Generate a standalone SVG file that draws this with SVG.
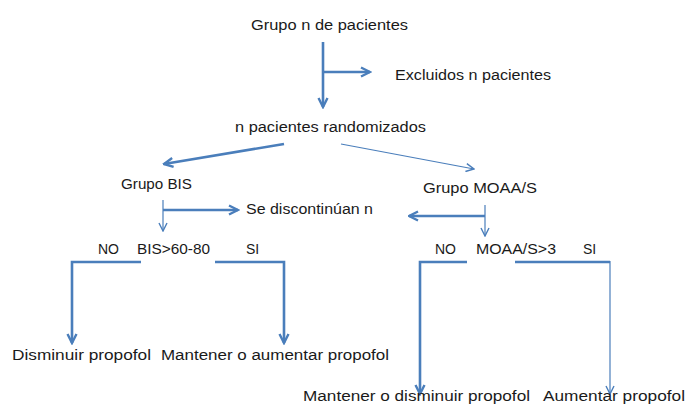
<svg xmlns="http://www.w3.org/2000/svg" width="687" height="405" viewBox="0 0 687 405">
<style>
text{font-family:"Liberation Sans",Arial,sans-serif;font-size:14px;fill:#1a1a1a}
.thick{stroke:#4A7EBB;stroke-width:2.6;fill:none}
.thin{stroke:#4A7EBB;stroke-width:1.2;fill:none}
</style>
<defs>
<marker id="ah" viewBox="0 0 12 12" refX="10.5" refY="6" markerWidth="12" markerHeight="12" markerUnits="userSpaceOnUse" orient="auto">
<path d="M1.5,1.5 L10.5,6 L1.5,10.5" fill="none" stroke="#4A7EBB" stroke-width="2.4"/>
</marker>
<marker id="at" viewBox="0 0 10 10" refX="9" refY="5" markerWidth="10" markerHeight="10" markerUnits="userSpaceOnUse" orient="auto">
<path d="M1,1 L9,5 L1,9" fill="none" stroke="#4A7EBB" stroke-width="1.4"/>
</marker>
</defs>
<g id="connectors">
<path class="thick" d="M323,42 V107" marker-end="url(#ah)"/>
<path class="thick" d="M323,72 H370" marker-end="url(#ah)"/>
<path class="thick" d="M284,144 L164,164" marker-end="url(#ah)"/>
<path class="thin" d="M341,144 L474,169" marker-end="url(#at)"/>
<path class="thin" d="M163,200 V231" marker-end="url(#at)"/>
<path class="thick" d="M163,210 H238" marker-end="url(#ah)"/>
<path class="thin" d="M485,205 V236" marker-end="url(#at)"/>
<path class="thick" d="M485,216 H409" marker-end="url(#ah)"/>
<path class="thick" d="M141,262 H72 V343" marker-end="url(#ah)"/>
<path class="thick" d="M215,262 H284 V343" marker-end="url(#ah)"/>
<path class="thick" d="M467,262 H420 V394" marker-end="url(#ah)"/>
<path class="thick" d="M515,262 H610"/>
<path class="thin" d="M610,261 V394" marker-end="url(#at)"/>
</g>
<g id="n-grupo"><text x="251" y="30" textLength="157" lengthAdjust="spacingAndGlyphs">Grupo n de pacientes</text></g>
<g id="n-excluidos"><text x="395" y="80" textLength="156" lengthAdjust="spacingAndGlyphs">Excluidos n pacientes</text></g>
<g id="n-random"><text x="235" y="132" textLength="191" lengthAdjust="spacingAndGlyphs">n pacientes randomizados</text></g>
<g id="n-bis"><text x="121" y="189" textLength="71" lengthAdjust="spacingAndGlyphs">Grupo BIS</text></g>
<g id="n-discont"><text x="246" y="214" textLength="127" lengthAdjust="spacingAndGlyphs">Se discontinúan n</text></g>
<g id="n-moaa"><text x="423" y="193" textLength="114" lengthAdjust="spacingAndGlyphs">Grupo MOAA/S</text></g>
<g id="n-bis-cond">
<text x="98" y="254">NO</text>
<text x="137" y="254" textLength="73" lengthAdjust="spacingAndGlyphs">BIS&gt;60-80</text>
<text x="246" y="254">SI</text>
</g>
<g id="n-moaa-cond">
<text x="435" y="254">NO</text>
<text x="476" y="254" textLength="80" lengthAdjust="spacingAndGlyphs">MOAA/S&gt;3</text>
<text x="583" y="254">SI</text>
</g>
<g id="n-dismin"><text x="12" y="360" textLength="139" lengthAdjust="spacingAndGlyphs">Disminuir propofol</text></g>
<g id="n-mant-aum"><text x="161" y="360" textLength="228" lengthAdjust="spacingAndGlyphs">Mantener o aumentar propofol</text></g>
<g id="n-mant-dis"><text x="303" y="401" textLength="227" lengthAdjust="spacingAndGlyphs">Mantener o disminuir propofol</text></g>
<g id="n-aum"><text x="543" y="401" textLength="142" lengthAdjust="spacingAndGlyphs">Aumentar propofol</text></g>
</svg>
